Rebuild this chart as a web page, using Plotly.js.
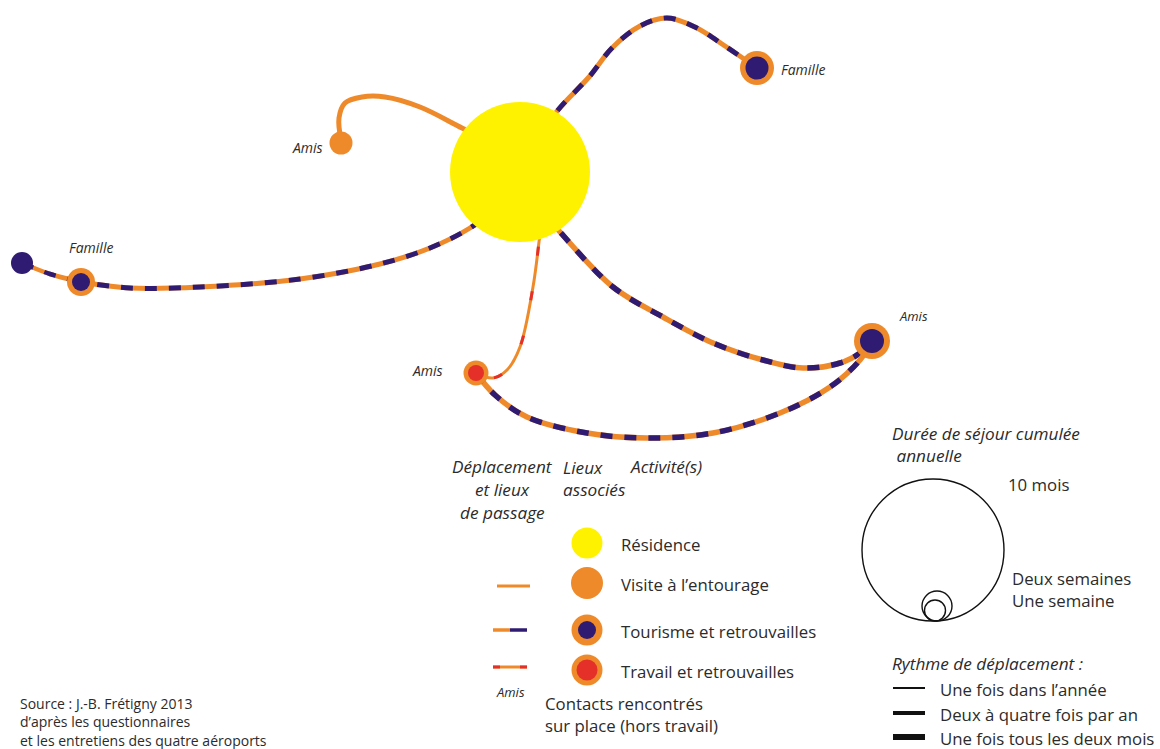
<!DOCTYPE html>
<html><head><meta charset="utf-8">
<script src="https://cdn.plot.ly/plotly-3.0.1.min.js"></script>
<style>html,body{margin:0;padding:0;background:#fff;}</style>
</head><body><div id="chart" style="width:1160px;height:749px;"></div>
<script>
// ---- data (diagram coordinates, pixels of the original figure) ----
const residenceX = [520], residenceY = [172];
const visiteX = [341], visiteY = [143];
const tourismeX = [757, 81, 872], tourismeY = [68, 282, 341];
const tourismeOuter = [34, 28, 36], tourismeInner = [23, 18, 24];
const passageX = [22], passageY = [263];
const travailX = [476], travailY = [373];

// paths (control points of the links)
const pathAmisX = [341, 339, 345, 362, 385, 420, 462, 490];
const pathAmisY = [140, 118, 103, 97, 97, 107, 128, 142];
const pathFamTopX = [530, 558, 589, 612, 640, 667, 695, 725, 757];
const pathFamTopY = [150, 110, 77, 48, 26, 18, 27, 46, 68];
const pathFamLeftX = [500, 470, 430, 380, 300, 200, 130, 81];
const pathFamLeftY = [205, 228, 248, 264, 279, 287, 288, 282];
const pathPassageX = [22, 50, 81];
const pathPassageY = [263, 274, 282];
const pathAmisRightX = [545, 560, 613, 663, 713, 763, 803, 840, 860, 872];
const pathAmisRightY = [215, 232, 287, 317, 343, 360, 368, 363, 353, 341];
const pathBottomX = [476, 495, 527, 587, 647, 713, 780, 830, 860, 872];
const pathBottomY = [373, 395, 417, 433, 438, 433, 413, 387, 360, 341];
const pathTravailX = [541, 539, 533, 520, 507, 493, 476];
const pathTravailY = [225, 242, 287, 347, 370, 378, 373];

// labels of places
const placeLabels = ['Amis', 'Famille', 'Famille', 'Amis', 'Amis'];
const placeLabelX = [290, 779, 67, 897, 410];
const placeLabelY = [147, 69, 247, 316, 370];
const placeLabelSize = [14, 14, 14, 13, 14];

// legend
const legendItems = ['Résidence', "Visite à l’entourage", 'Tourisme et retrouvailles', 'Travail et retrouvailles'];
const legendY = [543, 583, 630, 670];
const dureeLabels = ['10 mois', 'Deux semaines', 'Une semaine'];
const dureeSizes = [142, 30, 21];
const rythmeLabels = ['Une fois dans l’année', 'Deux à quatre fois par an', 'Une fois tous les deux mois'];
const rythmeWidths = [2, 4, 6];
const rythmeY = [689, 714, 738];
const sourceLines = ['Source : J.-B. Frétigny 2013', 'd’après les questionnaires', 'et les entretiens des quatre aéroports'];

// ---- styles ----
const YEL = '#fff200', ORA = '#ef8a2a', PUR = '#2f1b72', RED = '#e5302a', TXT = '#2b2b2b';
const FONT = 'Open Sans, Noto Sans, sans-serif';
const FS = 16.8, FI = 17.2;

const traces = [];
function line(x, y, color, width, dash, spline = true) {
  traces.push({x, y, mode: 'lines', type: 'scatter', hoverinfo: 'skip',
    line: {color, width, dash: dash || 'solid', shape: spline ? 'spline' : 'linear', smoothing: 1}});
}
function dots(x, y, color, size, extra) {
  traces.push(Object.assign({x, y, mode: 'markers', type: 'scatter', hoverinfo: 'skip',
    marker: {color, size, opacity: 1, line: {width: 0}}}, extra || {}));
}
function dashed(x, y, w) { line(x, y, ORA, w); line(x, y, PUR, w, '12px,12px'); }

// links
line(pathAmisX, pathAmisY, ORA, 5);
dashed(pathFamTopX, pathFamTopY, 5);
dashed(pathFamLeftX, pathFamLeftY, 5);
dashed(pathPassageX, pathPassageY, 4.5);
dashed(pathAmisRightX, pathAmisRightY, 5.5);
dashed(pathBottomX, pathBottomY, 5.5);
line(pathTravailX, pathTravailY, ORA, 3);
line(pathTravailX, pathTravailY, RED, 3, '0px,22px,9px,14px');

// nodes
dots(residenceX, residenceY, YEL, 140);
dots(visiteX, visiteY, ORA, 23);
dots(tourismeX, tourismeY, ORA, tourismeOuter);
dots(tourismeX, tourismeY, PUR, tourismeInner);
dots(passageX, passageY, PUR, 22);
dots(travailX, travailY, ORA, 25);
dots(travailX, travailY, RED, 16);

// legend symbols (centre column)
const legX = legendY.map(() => 587);
dots([legX[0]], [legendY[0]], YEL, 31);
dots([legX[1]], [legendY[1]], ORA, 32);
dots([legX[2]], [legendY[2]], ORA, 31);
dots([legX[2]], [legendY[2]], PUR, 18);
dots([legX[3]], [legendY[3]], ORA, 31);
dots([legX[3]], [legendY[3]], RED, 21);
// legend line samples
line([497, 530], [legendY[1] + 3, legendY[1] + 3], ORA, 3, null, false);
line([493, 510], [legendY[2], legendY[2]], ORA, 3.5, null, false);
line([510, 527], [legendY[2], legendY[2]], PUR, 3.5, null, false);
line([493, 527], [legendY[3] - 3, legendY[3] - 3], ORA, 3, null, false);
line([493, 500], [legendY[3] - 3, legendY[3] - 3], RED, 3, null, false);
line([520, 527], [legendY[3] - 3, legendY[3] - 3], RED, 3, null, false);

// duration circles (tangent at bottom, y = 621)
const dureeCx = [933, 937, 935];
const dureeCy = dureeSizes.map(s => 621 - s / 2);
traces.push({x: dureeCx, y: dureeCy, mode: 'markers', type: 'scatter', hoverinfo: 'skip',
  marker: {symbol: 'circle-open', color: '#111', opacity: 1, size: dureeSizes, line: {width: 1.4, color: '#111'}}});

// rhythm lines
rythmeWidths.forEach((w, i) => line([893, 925], [rythmeY[i] - 1, rythmeY[i] - 1], '#111', w, null, false));

// ---- annotations ----
const ann = [];
function txt(x, y, text, size, opts) {
  ann.push(Object.assign({x, y, xref: 'x', yref: 'y', text, showarrow: false,
    xanchor: 'left', yanchor: 'middle', font: {family: FONT, size, color: TXT}}, opts || {}));
}
placeLabels.forEach((t, i) => txt(placeLabelX[i], placeLabelY[i], '<i>' + t + '</i>', placeLabelSize[i]));

// legend headers
['Déplacement', 'et lieux', 'de passage'].forEach((t, i) =>
  txt(502, 466 + i * 23, '<i>' + t + '</i>', FI, {xanchor: 'center'}));
txt(561, 478, '<i>Lieux<br>associés</i>', FI, {align: 'left'});
txt(628, 466, '<i>Activité(s)</i>', FI);
legendItems.forEach((t, i) => txt(619, legendY[i] + 1, t, FS));
txt(510, 692, '<i>Amis</i>', 13, {xanchor: 'center'});
txt(543, 714, 'Contacts rencontrés<br>sur place (hors travail)', FS, {align: 'left'});

// right legend
txt(890, 444, '<i>Durée de séjour cumulée<br> annuelle</i>', FI, {align: 'left'});
txt(1006, 484, dureeLabels[0], FS);
txt(1010, 589, dureeLabels[1] + '<br>' + dureeLabels[2], FS, {align: 'left'});
txt(890, 663, '<i>Rythme de déplacement :</i>', FI);
rythmeLabels.forEach((t, i) => txt(938, rythmeY[i], t, FS));

sourceLines.forEach((t, i) => txt(18, 703 + i * 18.5, t, 14));

const layout = {
  width: 1160, height: 749, showlegend: false,
  margin: {l: 0, r: 0, t: 0, b: 0, pad: 0},
  paper_bgcolor: '#ffffff', plot_bgcolor: '#ffffff',
  xaxis: {range: [0, 1160], visible: false, fixedrange: true},
  yaxis: {range: [749, 0], visible: false, fixedrange: true},
  annotations: ann
};
Plotly.newPlot('chart', traces, layout, {staticPlot: true, displayModeBar: false});
</script></body></html>
